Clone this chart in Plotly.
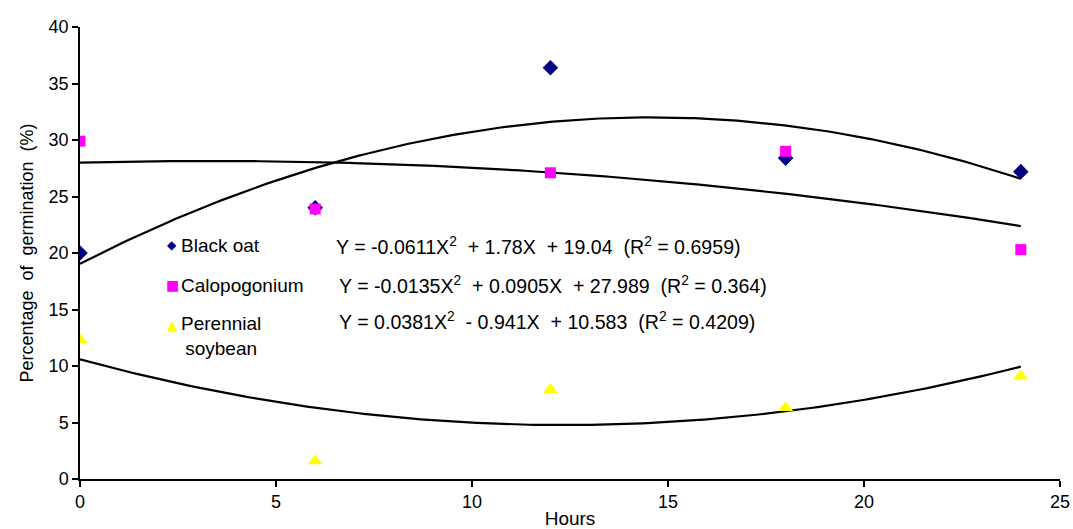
import numpy as np
import plotly.graph_objects as go

hours = [0, 6, 12, 18, 24]
black_oat = [20.0, 24.0, 36.4, 28.4, 27.2]
calopogonium = [29.9, 23.9, 27.1, 29.0, 20.3]
perennial_soybean = [12.3, 1.6, 7.9, 6.3, 9.1]

# trendline coefficients (a, b, c) as printed on the chart: Y = aX^2 + bX + c
coef_black_oat = [-0.0611, 1.78, 19.04]
coef_calopogonium = [-0.0135, 0.0905, 27.989]
coef_soybean = [0.0381, -0.941, 10.583]

series_names = ["Black oat", "Calopogonium", "Perennial<br>soybean"]
eq_texts = [
    "Y = -0.0611X<sup>2</sup>  + 1.78X  + 19.04  (R<sup>2</sup> = 0.6959)",
    "Y = -0.0135X<sup>2</sup>  + 0.0905X  + 27.989  (R<sup>2</sup> = 0.364)",
    "Y = 0.0381X<sup>2</sup>  - 0.941X  + 10.583  (R<sup>2</sup> = 0.4209)",
]

FONT = "Liberation Sans, Arial, sans-serif"
xs = np.linspace(min(hours), max(hours), 200)

fig = go.Figure()
for coef in [coef_black_oat, coef_calopogonium, coef_soybean]:
    fig.add_trace(go.Scatter(x=xs, y=np.polyval(coef, xs), mode="lines",
                             line=dict(color="black", width=2.2), showlegend=False,
                             hoverinfo="skip"))

fig.add_trace(go.Scatter(x=hours, y=black_oat, mode="markers", name="Black oat",
                         marker=dict(symbol="diamond", size=12, color="#000080")))
fig.add_trace(go.Scatter(x=hours, y=calopogonium, mode="markers", name="Calopogonium",
                         marker=dict(symbol="square", size=11, color="#FF00FF")))
fig.add_trace(go.Scatter(x=hours, y=perennial_soybean, mode="markers", name="Perennial soybean",
                         marker=dict(symbol="triangle-up", size=13, color="#FFFF00")))

def px_y(py):
    return (479 - py) / 452.0

def px_x(px):
    return (px - 80) / 980.0

symbols = [("◆", "#000080", 12, 245), ("■", "#FF00FF", 14, 285), ("▲", "#FFFF00", 14, 325)]
for sym, col, sz, py in symbols:
    fig.add_annotation(x=px_x(172), y=px_y(py), xref="paper", yref="paper",
                       text=sym, showarrow=False, xanchor="center", yanchor="middle",
                       font=dict(family="DejaVu Sans", size=sz, color=col))

for txt, py in zip(series_names, [245, 285, 336]):
    fig.add_annotation(x=px_x(179), y=px_y(py), xref="paper", yref="paper",
                       text=txt, showarrow=False, xanchor="left", yanchor="middle",
                       align="center", font=dict(family=FONT, size=19, color="black"))

for txt, px, py in zip(eq_texts, [334, 337, 337], [246, 285, 321]):
    fig.add_annotation(x=px_x(px), y=px_y(py), xref="paper", yref="paper",
                       text=txt, showarrow=False, xanchor="left", yanchor="middle",
                       font=dict(family=FONT, size=19.6, color="black"))

fig.update_layout(
    width=1073, height=529,
    margin=dict(l=80, r=13, t=27, b=50),
    paper_bgcolor="white", plot_bgcolor="white",
    showlegend=False,
    font=dict(family=FONT, size=18, color="black"),
    xaxis=dict(range=[0, 25], tickvals=[0, 5, 10, 15, 20, 25], showgrid=False,
               zeroline=False, showline=True, linecolor="black", linewidth=1.5,
               ticks="outside", ticklen=6, tickcolor="black", tickwidth=1.5,
               automargin=False, tickfont=dict(size=18),
               title=dict(text="Hours", standoff=9, font=dict(size=19))),
    yaxis=dict(range=[0, 40], tickvals=[0, 5, 10, 15, 20, 25, 30, 35, 40], showgrid=False,
               zeroline=False, showline=True, linecolor="black", linewidth=1.5,
               ticks="outside", ticklen=6, tickcolor="black", tickwidth=1.5,
               automargin=False, tickfont=dict(size=18),
               title=dict(text="Percentage  of  germination  (%)", standoff=10,
                          font=dict(size=18))),
)

fig.write_html("out.html")
